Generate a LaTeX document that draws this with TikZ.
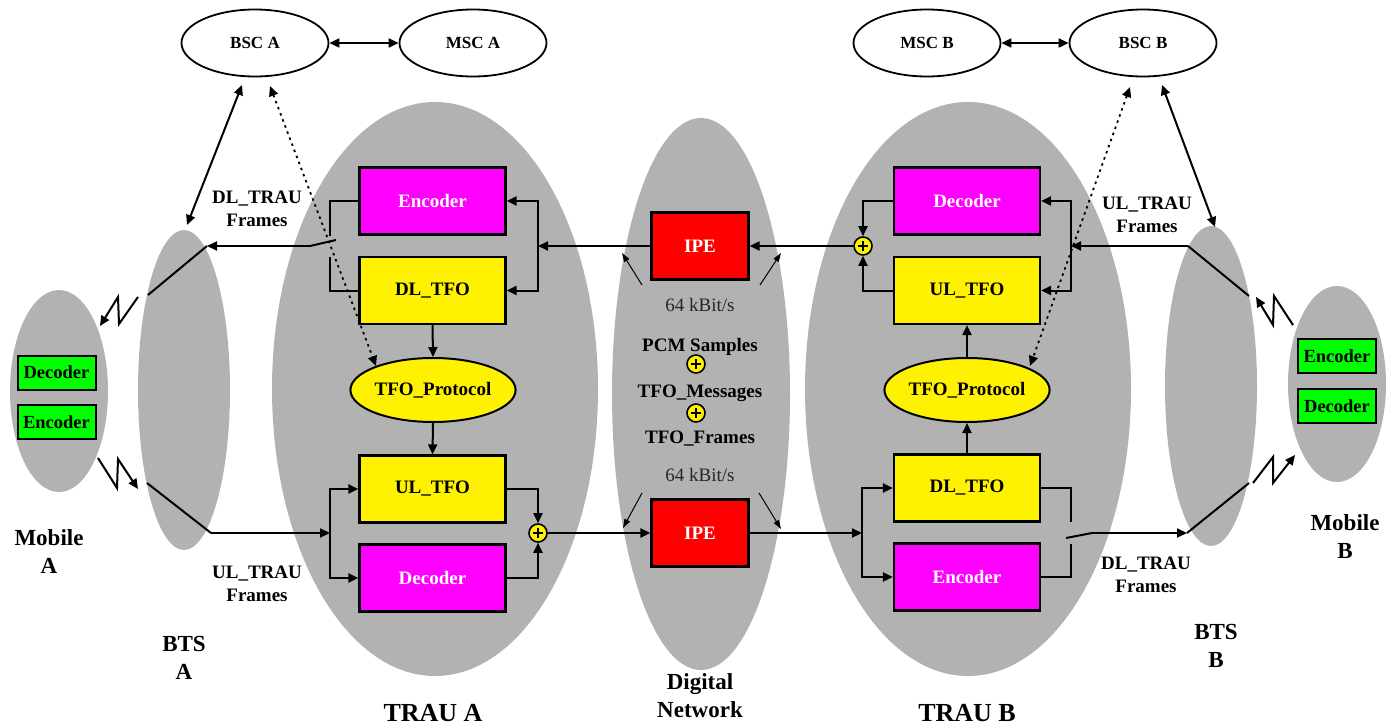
\documentclass[tikz,border=0pt]{standalone}
\usepackage{fontspec}
\setmainfont{Liberation Serif}
\usetikzlibrary{arrows.meta,shapes.geometric}
\definecolor{blobgray}{RGB}{178,178,178}
\definecolor{mag}{RGB}{255,0,255}
\definecolor{grn}{RGB}{0,255,0}
\tikzset{
  tip/.tip={Triangle[length=10pt,width=9pt]},
  blob/.style={ellipse, fill=blobgray, inner sep=0pt},
  lab/.style={font=\fontsize{19}{23.5}\selectfont\bfseries, align=center, inner sep=0pt},
  biglab/.style={font=\fontsize{23}{28}\selectfont\bfseries, align=center, inner sep=0pt},
  traulab/.style={font=\fontsize{26}{30}\selectfont\bfseries, inner sep=0pt},
  rate/.style={font=\fontsize{19}{22}\selectfont, text=black!85, inner sep=0pt},
  box/.style={draw, line width=2.2pt, minimum width=146pt, minimum height=67pt, inner sep=0pt,
    font=\fontsize{19}{22}\selectfont\bfseries},
  magbox/.style={box, fill=mag, text=white},
  yelbox/.style={box, fill=yellow},
  ipebox/.style={box, fill=red, text=white, minimum width=97pt},
  proto/.style={ellipse, draw, line width=2pt, fill=yellow, minimum width=150pt, minimum height=64pt,
    inner sep=0pt, font=\fontsize{19}{22}\selectfont\bfseries},
  grnbox/.style={draw, line width=2pt, fill=grn, minimum width=78pt, minimum height=34pt, inner sep=0pt,
    font=\fontsize{18.5}{22}\selectfont\bfseries},
  topell/.style={ellipse, draw, line width=1.8pt, fill=white, minimum width=147pt, minimum height=67pt,
    inner sep=0pt, font=\fontsize{17}{20}\selectfont\bfseries},
  plus/.style={circle, draw, fill=yellow, line width=1.6pt, minimum size=18pt, inner sep=0pt,
    path picture={\draw[line width=1.6pt]
      ([xshift=-5pt]path picture bounding box.center) -- ([xshift=5pt]path picture bounding box.center)
      ([yshift=-5pt]path picture bounding box.center) -- ([yshift=5pt]path picture bounding box.center);}},
  ln/.style={line width=2pt},
  arr/.style={ln, -tip},
  darr/.style={ln, tip-tip},
  dotarr/.style={line width=1.8pt, dash pattern=on 2.5pt off 4pt, tip-tip},
  thinarr/.style={line width=1pt, -{Triangle[length=9pt,width=6pt]}},
}
\begin{document}
\begin{tikzpicture}[x=1pt,y=-1pt]
\useasboundingbox (0,0) rectangle (1396,727);

% grey areas: mobiles, base stations, transcoders, network
\node[blob, minimum width=98pt,  minimum height=202pt] (mobA)  at (59,391)  {};
\node[blob, minimum width=92pt,  minimum height=320pt] (btsA)  at (184,390) {};
\node[blob, minimum width=326pt, minimum height=574pt] (trauA) at (435,389) {};
\node[blob, minimum width=178pt, minimum height=552pt] (dign)  at (701,394) {};
\node[blob, minimum width=326pt, minimum height=574pt] (trauB) at (968,389) {};
\node[blob, minimum width=92pt,  minimum height=320pt] (btsB)  at (1211,386) {};
\node[blob, minimum width=98pt,  minimum height=196pt] (mobB)  at (1337,384) {};

% area captions
\node[biglab] (capMobA) at (49,552)   {Mobile\\A};
\node[biglab] (capBtsA) at (184,658)  {BTS\\A};
\node[traulab] (capTrA) at (433,713)  {TRAU A};
\node[biglab] (capDig)  at (700,696)  {Digital\\Network};
\node[traulab] (capTrB) at (967,713)  {TRAU B};
\node[biglab] (capBtsB) at (1216,646) {BTS\\B};
\node[biglab] (capMobB) at (1345,537) {Mobile\\B};

% switching centres
\node[topell] (bscA) at (255,43)  {BSC A};
\node[topell] (mscA) at (473,43)  {MSC A};
\node[topell] (mscB) at (927,43)  {MSC B};
\node[topell] (bscB) at (1143,43) {BSC B};
\draw[darr] (bscA.east) -- (mscA.west);
\draw[darr] (mscB.east) -- (bscB.west);

% mobile codecs
\node[grnbox] (mDecA) at (56.5,372.5) {Decoder};
\node[grnbox] (mEncA) at (56.5,422)   {Encoder};
\node[grnbox] (mEncB) at (1337,356)   {Encoder};
\node[grnbox] (mDecB) at (1337,406)   {Decoder};

% TRAU A blocks
\node[magbox] (encA)   at (432.5,201)   {Encoder};
\node[yelbox] (dltfoA) at (432.5,290.5) {DL\_TFO};
\node[proto]  (protA)  at (433,390)     {TFO\_Protocol};
\node[yelbox] (ultfoA) at (432.5,489)   {UL\_TFO};
\node[magbox] (decA)   at (432.5,578)   {Decoder};

% TRAU B blocks
\node[magbox] (decB)   at (967,201)   {Decoder};
\node[yelbox] (ultfoB) at (967,290.5) {UL\_TFO};
\node[proto]  (protB)  at (967,390)   {TFO\_Protocol};
\node[yelbox] (dltfoB) at (967,488)   {DL\_TFO};
\node[magbox] (encB)   at (967,577)   {Encoder};

% in-path equipment
\node[ipebox] (ipeT) at (700,246) {IPE};
\node[ipebox] (ipeB) at (700,533) {IPE};

% summation points
\node[plus] (plusA) at (538,533) {};
\node[plus] (plusB) at (863,246) {};
\node[plus] (plusM1) at (696,364) {};
\node[plus] (plusM2) at (696,413) {};

% network texts
\node[rate] (rateT) at (700,305) {64 kBit/s};
\node[rate] (rateB) at (700,475) {64 kBit/s};
\node[lab] (pcm)  at (700,347) {PCM Samples};
\node[lab] (tmsg) at (700,393) {TFO\_Messages};
\node[lab] (tfrm) at (700,439) {TFO\_Frames};

% frame labels
\node[lab] (dlA) at (257,209)  {DL\_TRAU\\Frames};
\node[lab] (ulA) at (257,584)  {UL\_TRAU\\Frames};
\node[lab] (ulB) at (1147,215) {UL\_TRAU\\Frames};
\node[lab] (dlB) at (1146,575) {DL\_TRAU\\Frames};

% junctions and bends
\coordinate (jA)     at (538,246);
\coordinate (swAu)   at (330,236);
\coordinate (swAl)   at (330,257);
\coordinate (swAh)   at (336,240);
\coordinate (swAp)   at (310,246);
\coordinate (aDLin)  at (207,246);
\coordinate (aDLout) at (148,295);
\coordinate (zA1) at (138,297);
\coordinate (zA2) at (119,324);
\coordinate (zA3) at (118,297);
\coordinate (zA4) at (100,326);
\coordinate (aULin)  at (147,483);
\coordinate (aULk)   at (211,533);
\coordinate (jAl)    at (330,533);
\coordinate (zA5) at (98,458);
\coordinate (zA6) at (117,488);
\coordinate (zA7) at (118,459);
\coordinate (zA8) at (138,489);

\coordinate (jB)     at (1071,246);
\coordinate (bULk)   at (1188,246);
\coordinate (bULout) at (1249,296);
\coordinate (zB1) at (1293,325);
\coordinate (zB2) at (1274,296);
\coordinate (zB3) at (1273,325);
\coordinate (zB4) at (1256,297);
\coordinate (jBl)    at (862,533);
\coordinate (swBu)   at (1071,522);
\coordinate (swBl)   at (1071,544);
\coordinate (swBh)   at (1066,538);
\coordinate (swBp)   at (1092,533);
\coordinate (bDLk)   at (1187,533);
\coordinate (bDLout) at (1249,483);
\coordinate (zB5) at (1253,483);
\coordinate (zB6) at (1273,457);
\coordinate (zB7) at (1273,483);
\coordinate (zB8) at (1295,455);

% signalling to the BSCs
\coordinate (bscAa) at (242,85);
\coordinate (btsAa) at (187,225);
\coordinate (bscAd) at (270,86);
\coordinate (protAd) at (376,366);
\coordinate (bscBa) at (1162,85);
\coordinate (btsBa) at (1215,227);
\coordinate (bscBd) at (1130,87);
\coordinate (protBd) at (1030,366);
\draw[darr] (bscAa) -- (btsAa);
\draw[darr] (bscBa) -- (btsBa);
\draw[dotarr] (bscAd) -- (protAd);
\draw[dotarr] (bscBd) -- (protBd);

% downlink A: network -> TRAU A -> BTS A -> mobile A
\draw[arr] (plusB.west) -- (ipeT.east);
\draw[arr] (ipeT.west) -- (jA);
\draw[arr] (jA) |- (encA.east);
\draw[arr] (jA) |- (dltfoA.east);
\draw[ln] (encA.west) -| (swAu);
\draw[ln] (dltfoA.west) -| (swAl);
\draw[ln] (swAh) -- (swAp);
\draw[arr] (swAp) -- (aDLin);
\draw[ln] (aDLin) -- (aDLout);
\draw[arr] (zA1) -- (zA2) -- (zA3) -- (zA4);
\draw[arr] (dltfoA.south) -- (protA.north);
\draw[arr] (protA.south) -- (ultfoA.north);

% uplink A: mobile A -> BTS A -> TRAU A -> network
\draw[arr] (zA5) -- (zA6) -- (zA7) -- (zA8);
\draw[ln] (aULin) -- (aULk);
\draw[arr] (aULk) -- (jAl);
\draw[arr] (jAl) |- (ultfoA.west);
\draw[arr] (jAl) |- (decA.west);
\draw[arr] (ultfoA.east) -| (plusA.north);
\draw[arr] (decA.east) -| (plusA.south);
\draw[arr] (plusA.east) -- (ipeB.west);
\draw[arr] (ipeB.east) -- (jBl);

% TRAU B
\draw[arr] (jBl) |- (dltfoB.west);
\draw[arr] (jBl) |- (encB.west);
\draw[ln] (dltfoB.east) -| (swBu);
\draw[ln] (encB.east) -| (swBl);
\draw[ln] (swBh) -- (swBp);
\draw[arr] (swBp) -- (bDLk);
\draw[ln] (bDLk) -- (bDLout);
\draw[arr] (zB5) -- (zB6) -- (zB7) -- (zB8);
\draw[arr] (dltfoB.north) -- (protB.south);
\draw[arr] (protB.north) -- (ultfoB.south);

\draw[arr] (zB1) -- (zB2) -- (zB3) -- (zB4);
\draw[ln] (bULout) -- (bULk);
\draw[arr] (bULk) -- (jB);
\draw[arr] (jB) |- (decB.east);
\draw[arr] (jB) |- (ultfoB.east);
\draw[arr] (decB.west) -| (plusB.north);
\draw[arr] (ultfoB.west) -| (plusB.south);

% 64 kBit/s pointers
\coordinate (t1s) at (642,285); \coordinate (t1e) at (622,253);
\coordinate (t2s) at (760,285); \coordinate (t2e) at (781,253);
\coordinate (t3s) at (642,493); \coordinate (t3e) at (623,528);
\coordinate (t4s) at (759,493); \coordinate (t4e) at (781,529);
\draw[thinarr] (t1s) -- (t1e);
\draw[thinarr] (t2s) -- (t2e);
\draw[thinarr] (t3s) -- (t3e);
\draw[thinarr] (t4s) -- (t4e);
\end{tikzpicture}
\end{document}
